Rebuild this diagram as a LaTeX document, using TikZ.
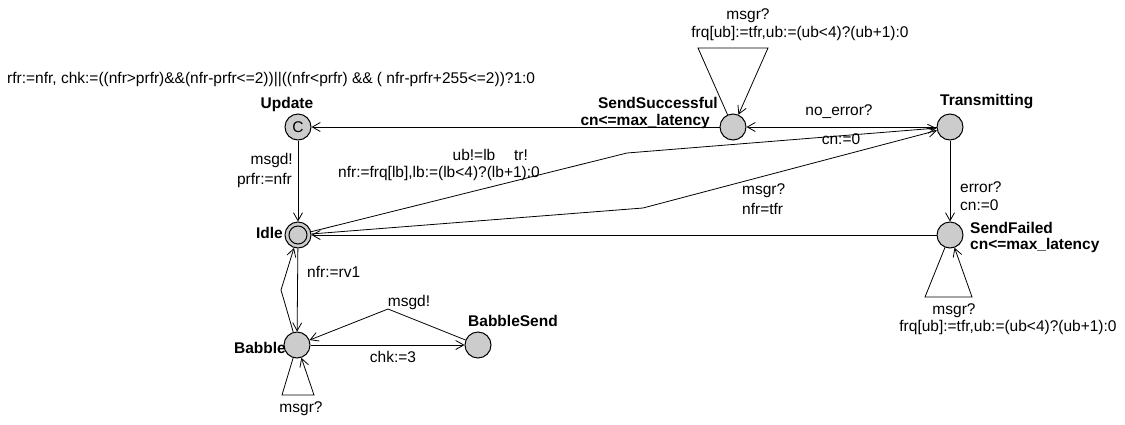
\documentclass[tikz,border=0pt]{standalone}
\usepackage{fontspec}
\setmainfont{Liberation Sans}
\usetikzlibrary{arrows.meta}
\begin{document}
\begin{tikzpicture}[x=1pt,y=-1pt,
 loc/.style={circle,draw,fill=black!20,minimum size=26pt,inner sep=0pt,line width=1pt},
 edge/.style={draw,line width=0.8pt,-{Straight Barb[length=8pt,width=9pt]}},
 lbl/.style={font=\fontsize{15.5}{17}\selectfont,inner sep=0pt},
 lname/.style={font=\fontsize{15.5}{17}\selectfont\bfseries,inner sep=0pt}]
\useasboundingbox (0,0) rectangle (1125,424);
% locations
\node[loc] (upd) at (298,127) {\fontsize{15.5}{17}\selectfont C};
\node[loc] (idle) at (298,235) {};
\draw[line width=1pt] (idle.center) circle (9);
\node[loc] (bab) at (297,345) {};
\node[loc] (bsend) at (478,345) {};
\node[loc] (ss) at (733,127) {};
\node[loc] (tx) at (950,127) {};
\node[loc] (sf) at (950,235) {};
% location names
\node[lname] (nupd) at (287,104) {Update};
\node[lname,anchor=east] (nidle) at (283,233) {Idle};
\node[lname,anchor=east] (nbab) at (286,348) {Babble};
\node[lname] (nbsend) at (513,321) {BabbleSend};
\node[lname,anchor=east] (nss) at (718,103) {SendSuccessful};
\node[lname,anchor=east] (iss) at (710,121) {cn<=max\_latency};
\node[lname,anchor=west] (ntx) at (940,102) {Transmitting};
\node[lname,anchor=west] (nsf) at (970,228) {SendFailed};
\node[lname,anchor=west] (isf) at (970,245) {cn<=max\_latency};
% edges
\path[edge] (ss) -- (upd);
\path[edge] (tx) -- (ss);
\path[edge] (upd) -- (idle);
\path[edge] (tx) -- (sf);
\path[edge] (sf) -- (idle);
\path[edge] (idle) -- (bab);
\path[edge] (idle) -- (627,153) -- (tx);
\path[edge] (idle) -- (643,208) -- (tx);
\path[edge] (bab) -- (281,290) -- (idle);
\path[edge] (bsend) -- (388,309) -- (bab);
\path[edge] (bab) -- (bsend);
\path[edge] (ss) -- (698,48) -- (768,48) -- (ss);
\path[edge] (sf) -- (925,297) -- (972,297) -- (sf);
\path[edge] (bab) -- (282,395) -- (314,395) -- (bab);
% labels
\node[lbl,anchor=west] (decl) at (7,80) {rfr:=nfr, chk:=((nfr>prfr)\&\&(nfr-prfr<=2))||((nfr<prfr) \&\& ( nfr-prfr+255<=2))?1:0};
\node[lbl] (l1) at (839,112) {no\_error?};
\node[lbl] (l2) at (841,139) {cn:=0};
\node[lbl,anchor=east] (l3) at (293,160) {msgd!};
\node[lbl,anchor=east] (l4) at (292,180) {prfr:=nfr};
\node[lbl] (l5) at (474,155) {ub!=lb};
\node[lbl] (l6) at (521,155) {tr!};
\node[lbl,anchor=east] (l7) at (540,173) {nfr:=frq[lb],lb:=(lb<4)?(lb+1):0};
\node[lbl,anchor=west] (l8) at (742,191) {msgr?};
\node[lbl,anchor=west] (l9) at (742,209) {nfr=tfr};
\node[lbl,anchor=west] (l10) at (960,187) {error?};
\node[lbl,anchor=west] (l11) at (960,205) {cn:=0};
\node[lbl] (l12) at (748,16) {msgr?};
\node[lbl] (l13) at (800,33) {frq[ub]:=tfr,ub:=(ub<4)?(ub+1):0};
\node[lbl] (l14) at (954,311) {msgr?};
\node[lbl] (l15) at (1008,327) {frq[ub]:=tfr,ub:=(ub<4)?(ub+1):0};
\node[lbl,anchor=west] (l16) at (307,272) {nfr:=rv1};
\node[lbl] (l17) at (409,302) {msgd!};
\node[lbl] (l18) at (393,357) {chk:=3};
\node[lbl] (l19) at (301,409) {msgr?};
\end{tikzpicture}
\end{document}
